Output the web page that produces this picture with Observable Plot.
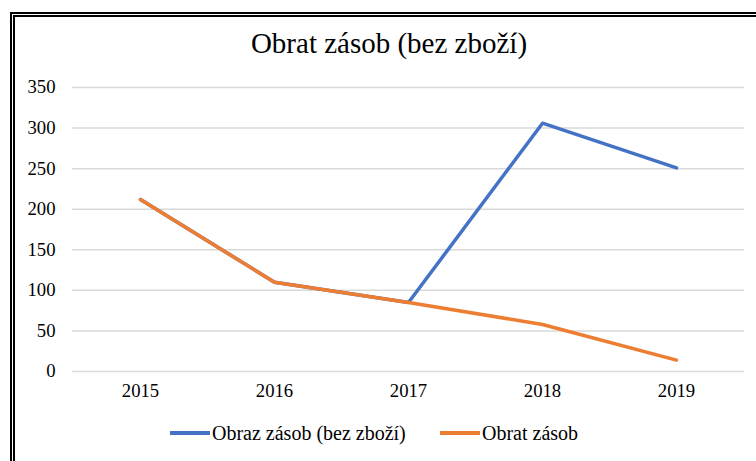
<!DOCTYPE html>
<html><head><meta charset="utf-8">
<script src="https://cdn.jsdelivr.net/npm/d3@7"></script>
<script src="https://cdn.jsdelivr.net/npm/@observablehq/plot@0.6"></script>
<style>
body{margin:0;background:#fff;}
#wrap{position:relative;width:756px;height:461px;overflow:hidden;font-family:"Liberation Serif","Times New Roman",serif;color:#000;}
#frame{position:absolute;left:10px;top:12px;width:800px;height:520px;border:5px double #000;box-sizing:border-box;}
#title{position:absolute;left:0;width:778px;top:29px;text-align:center;font-size:29px;line-height:29px;white-space:nowrap;}
#chart{position:absolute;left:0;top:0;}
.leg{position:absolute;top:423px;font-size:20px;line-height:20px;white-space:nowrap;display:flex;align-items:center;}
.leg .sw{display:inline-block;width:40px;height:3.5px;margin-right:2px;}
</style></head>
<body><div id="wrap"><div id="frame"></div><div id="title">Obrat zásob (bez zboží)</div><div id="chart"></div><div id="legend"></div></div>
<script>
const years = ["2015","2016","2017","2018","2019"];
const seriesNames = ["Obraz zásob (bez zboží)","Obrat zásob"];
const blueValues = [212,110,85,306,251];
const orangeValues = [212,110,85,58,14];
const yTicks = [0,50,100,150,200,250,300,350];
const colors = ["#4472C4","#ED7D31"];

const rows = [];
years.forEach((y,i)=>rows.push({year:y, value:blueValues[i], series:seriesNames[0]}));
years.forEach((y,i)=>rows.push({year:y, value:orangeValues[i], series:seriesNames[1]}));

const plot = Plot.plot({
  width:756, height:410,
  marginLeft:72, marginRight:12, marginTop:87, marginBottom:39,
  style:{fontFamily:'"Liberation Serif","Times New Roman",serif', fontSize:"18.7px", color:"#000", background:"transparent"},
  x:{type:"point", domain:years, padding:0.5, label:null},
  y:{domain:[0,350], label:null},
  color:{domain:seriesNames, range:colors},
  marks:[
    Plot.ruleY(yTicks,{stroke:"#d9d9d9", strokeWidth:1.5}),
    Plot.axisY(yTicks,{tickSize:0, tickPadding:17, label:null, fontSize:18.7}),
    Plot.axisX({tickSize:0, tickPadding:12, label:null, fontSize:18.7}),
    Plot.line(rows,{x:"year", y:"value", z:"series", stroke:"series", strokeWidth:3.5, strokeLinejoin:"round", strokeLinecap:"round"})
  ]
});
document.getElementById("chart").appendChild(plot);

const legend = document.getElementById("legend");
const legX = [170, 440];
seriesNames.forEach((n,i)=>{
  const d = document.createElement("div");
  d.className="leg"; d.style.left = legX[i]+"px";
  const s = document.createElement("span"); s.className="sw"; s.style.background = colors[i];
  d.appendChild(s); d.appendChild(document.createTextNode(n));
  legend.appendChild(d);
});
</script></body></html>
